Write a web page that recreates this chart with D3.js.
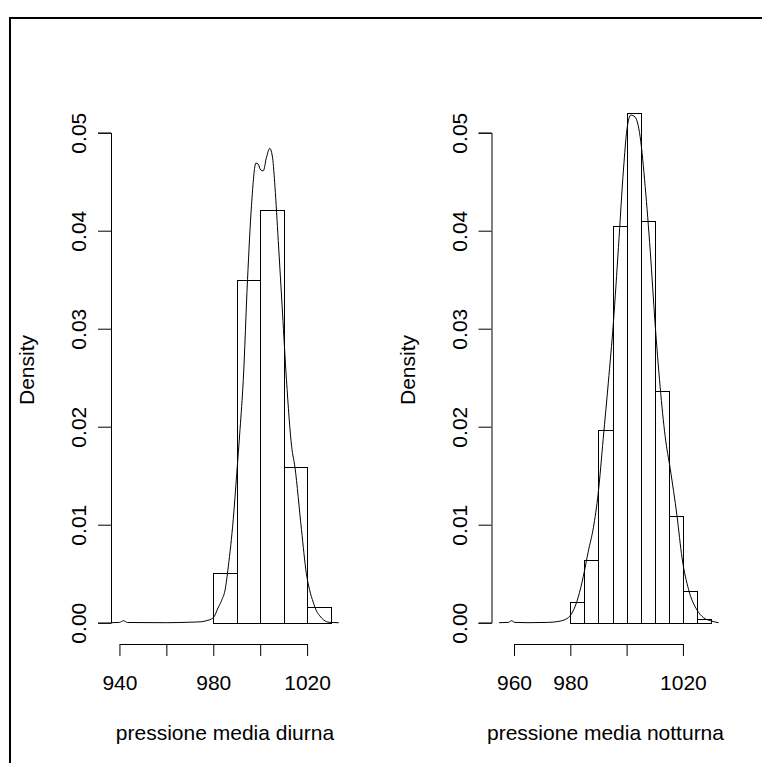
<!DOCTYPE html>
<html>
<head>
<meta charset="utf-8">
<script src="https://cdn.jsdelivr.net/npm/d3@7"></script>
<style>
body { margin: 0; background: #fff; }
svg { display: block; }
text { font-family: "Liberation Sans", Arial, sans-serif; font-size: 21px; fill: #000; }
</style>
</head>
<body>
<script>
// pressione media diurna: histogram (breaks of 10) and kernel density
var diurnaBreaks = [980, 990, 1000, 1010, 1020, 1030];
var diurnaDensity = [0.0051, 0.0350, 0.0421, 0.0159, 0.0016];
var diurnaCurveX = [936.5, 940, 941.7, 943.5, 960, 970, 975, 977, 980, 982, 983.6, 985, 986.4, 988.5, 990, 991.4, 992.8,
  994.6, 996.3, 998.2, 999.1, 1000.2, 1001.3, 1002.7, 1004.1, 1005.3, 1006.3, 1007.7, 1009.5, 1011.2, 1013.4,
  1014.8, 1017.6, 1019.7, 1021, 1022.6, 1024, 1025.4, 1027, 1028.3, 1030.4, 1033.5];
var diurnaCurveY = [0, 0.00003, 0.0002, 0.00002, 0, 0.00005, 0.0001, 0.0002, 0.0005, 0.0015, 0.0023, 0.0033, 0.0057, 0.0105, 0.0152, 0.0197, 0.0248,
  0.0350, 0.0426, 0.0469, 0.0468, 0.0462, 0.0461, 0.0475, 0.0484, 0.0474, 0.0445, 0.0390, 0.0317, 0.0248, 0.0180,
  0.0159, 0.0095, 0.0050, 0.0034, 0.0021, 0.0012, 0.0007, 0.0003, 0.0001, 0.00002, 0];
var diurnaTicks = [940, 960, 980, 1000, 1020];
var diurnaTickLabels = ["940", "", "980", "", "1020"];

// pressione media notturna: histogram (breaks of 5) and kernel density
var notturnaBreaks = [980, 985, 990, 995, 1000, 1005, 1010, 1015, 1020, 1025, 1030];
var notturnaDensity = [0.0021, 0.0064, 0.0197, 0.0405, 0.0520, 0.0410, 0.0236, 0.0109, 0.0032, 0.0004];
var notturnaCurveX = [954.7, 958, 959.1, 960.3, 965, 972, 975.1, 978.7, 981, 982.8, 984.6, 986.4, 988.2, 989.9, 991.7,
  993.5, 995.3, 997.1, 998.9, 1000.1, 1001.5, 1003, 1004.8, 1006.6, 1008.4, 1010.1, 1011.9, 1013.7, 1015.5,
  1017.9, 1019.7, 1022, 1025, 1027.4, 1029.8, 1032.7];
var notturnaCurveY = [0, 0.00003, 0.0002, 0.00003, 0, 0.00003, 0.0001, 0.0004, 0.0012, 0.0026, 0.0047, 0.0073, 0.0097, 0.0132, 0.0188,
  0.0245, 0.0306, 0.0383, 0.0463, 0.0503, 0.0518, 0.0516, 0.0496, 0.0445, 0.0379, 0.0306, 0.0241, 0.0190, 0.0157,
  0.0109, 0.0066, 0.0034, 0.0013, 0.0005, 0.0002, 0];
var notturnaTicks = [960, 980, 1000, 1020];
var notturnaTickLabels = ["960", "980", "", "1020"];

var yTicks = [0, 0.01, 0.02, 0.03, 0.04, 0.05];
var yTickLabels = ["0.00", "0.01", "0.02", "0.03", "0.04", "0.05"];

var width = 762, height = 763;

var svg = d3.select("body").append("svg")
      .attr("width", width)
      .attr("height", height);

// device frame
svg.append("path")
   .attr("d", d3.line()([[10, height], [10, 18], [width, 18]]))
   .attr("fill", "none")
   .attr("stroke", "black")
   .attr("stroke-width", 2);

function drawPanel(left, xlim, breaks, dens, curveX, curveY, ticks, tickLabels, title) {
  var plotW = 228;
  var xPad = (xlim[1] - xlim[0]) * 0.04;
  var x = d3.scaleLinear()
        .domain([xlim[0] - xPad, xlim[1] + xPad])
        .range([left, left + plotW]);
  var y = d3.scaleLinear()
        .domain([0, 0.05])
        .range([622.7, 132.7]);
  var axisY = 644;

  var g = svg.append("g");

  // bars
  var bins = dens.map((d, i) => ({x0: breaks[i], x1: breaks[i + 1], d: d}));
  g.selectAll("rect")
    .data(bins)
    .enter()
    .append("rect")
    .attr("x", d => Math.round(x(d.x0)) + 0.5)
    .attr("width", d => Math.round(x(d.x1)) - Math.round(x(d.x0)))
    .attr("y", d => Math.round(y(d.d)) + 0.5)
    .attr("height", d => Math.round(y(0)) - Math.round(y(d.d)))
    .attr("fill", "white")
    .attr("stroke", "black")
    .attr("stroke-width", 1);

  // density line
  var pts = curveX.map((v, i) => [v, curveY[i]]);
  g.append("path")
    .datum(pts)
    .attr("d", d3.line().x(d => x(d[0])).y(d => y(d[1])).curve(d3.curveMonotoneX))
    .attr("fill", "none")
    .attr("stroke", "black")
    .attr("stroke-width", 1);

  // y axis
  var yAxis = d3.axisLeft(y)
        .tickValues(yTicks)
        .tickFormat((d, i) => yTickLabels[i])
        .tickSizeOuter(0)
        .tickSize(13);
  var ya = g.append("g")
        .attr("transform", `translate(${left}, 0)`)
        .call(yAxis);
  ya.selectAll("path, line").attr("stroke", "black");
  ya.selectAll("text")
    .attr("transform", "rotate(-90)")
    .attr("x", 0)
    .attr("y", -25)
    .attr("dy", 0)
    .attr("text-anchor", "middle")
    .style("font-size", "21px")
    .style("font-family", '"Liberation Sans", Arial, sans-serif');

  // x axis, line only between first and last tick as in R
  var xAxis = d3.axisBottom(x)
        .tickValues(ticks)
        .tickFormat((d, i) => tickLabels[i])
        .tickSize(12);
  var xa = g.append("g")
        .attr("transform", `translate(0, ${axisY})`)
        .call(xAxis);
  xa.select(".domain").remove();
  xa.append("line")
    .attr("x1", x(ticks[0]) + 0.5)
    .attr("x2", x(ticks[ticks.length - 1]) + 0.5)
    .attr("y1", 0.5)
    .attr("y2", 0.5)
    .attr("stroke", "black");
  xa.selectAll("line").attr("stroke", "black");
  xa.selectAll("text")
    .attr("y", 46)
    .attr("dy", 0)
    .style("font-size", "21px")
    .style("font-family", '"Liberation Sans", Arial, sans-serif');

  // labels
  g.append("text")
    .attr("x", left + plotW / 2)
    .attr("y", 740)
    .attr("text-anchor", "middle")
    .text(title);
  g.append("text")
    .attr("transform", `translate(${left - 77}, 370) rotate(-90)`)
    .attr("text-anchor", "middle")
    .text("Density");
}

drawPanel(111, [940, 1030], diurnaBreaks, diurnaDensity, diurnaCurveX, diurnaCurveY,
          diurnaTicks, diurnaTickLabels, "pressione media diurna");
drawPanel(491.5, [955, 1030], notturnaBreaks, notturnaDensity, notturnaCurveX, notturnaCurveY,
          notturnaTicks, notturnaTickLabels, "pressione media notturna");
</script>
</body>
</html>
